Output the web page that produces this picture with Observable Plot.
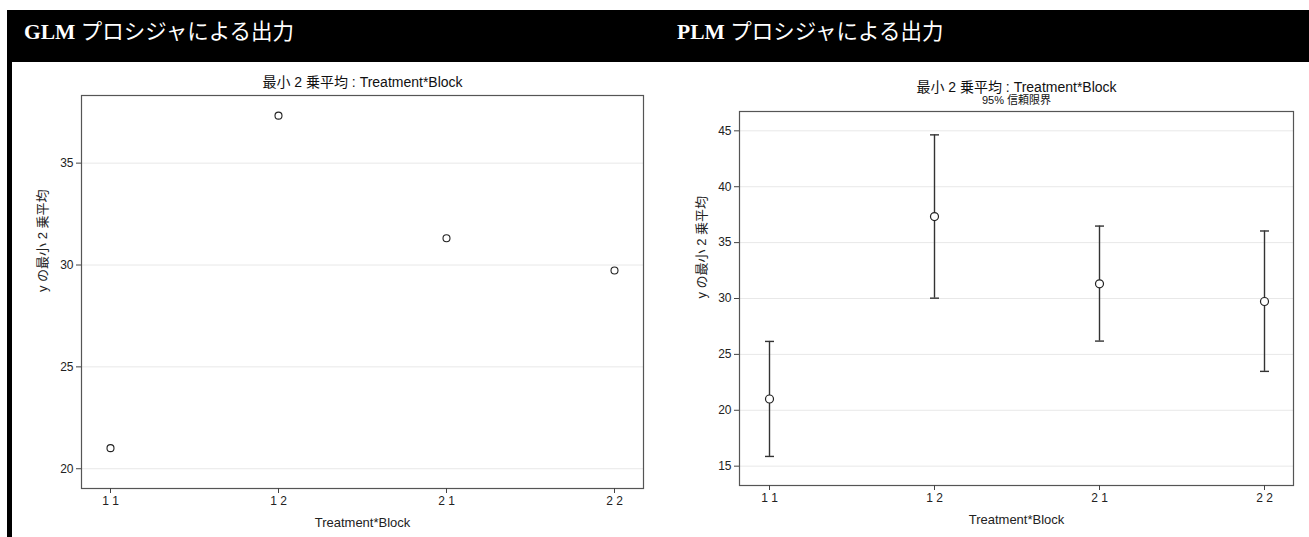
<!DOCTYPE html>
<html><head><meta charset="utf-8">
<script src="https://cdn.jsdelivr.net/npm/d3@7"></script>
<script src="https://cdn.jsdelivr.net/npm/@observablehq/plot@0.6"></script>
<style>
body{margin:0;width:1309px;height:537px;position:relative;background:#fff;overflow:hidden}
.hdr{position:absolute;left:7px;top:10px;width:1302px;height:52px;background:#000}
.bar{position:absolute;left:7px;top:62px;width:5px;height:475px;background:#000}
.htxt{position:absolute;top:19px;line-height:26px;font-size:21.5px;color:#fff;font-family:"Liberation Serif","Noto Sans CJK JP",serif;white-space:nowrap}
.htxt b{font-weight:bold}
#left,#right{position:absolute;top:70px}
#left{left:12px}
#right{left:655px}
</style></head><body>
<div class="hdr"></div>
<div class="bar"></div>
<div class="htxt" id="h1" style="left:24px"></div>
<div class="htxt" id="h2" style="left:677px"></div>
<div id="left"></div>
<div id="right"></div>
<script>
const categories = ["1 1", "1 2", "2 1", "2 2"];
const lsmeans = [21.01, 37.33, 31.31, 29.73];
const lower = [15.87, 30.03, 26.19, 23.48];
const upper = [26.16, 44.64, 36.48, 36.04];
const leftYTicks = [20, 25, 30, 35];
const rightYTicks = [15, 20, 25, 30, 35, 40, 45];
const procNames = ["GLM", "PLM"];
const panelSuffix = " プロシジャによる出力";
const chartTitle = "最小 2 乗平均 : Treatment*Block";
const subTitle = "95% 信頼限界";
const xLabel = "Treatment*Block";
const yLabel = "y の最小 2 乗平均";

document.getElementById("h1").innerHTML = "<b>" + procNames[0] + "</b>" + panelSuffix;
document.getElementById("h2").innerHTML = "<b>" + procNames[1] + "</b>" + panelSuffix;

const rows = categories.map((c, i) => ({cat: c, mean: lsmeans[i], lo: lower[i], hi: upper[i]}));
const font = '"Liberation Sans","Noto Sans CJK JP",sans-serif';
const capSymbol = {draw(ctx, size) { const r = Math.sqrt(size / Math.PI); ctx.moveTo(-r, 0); ctx.lineTo(r, 0); }};

const left = Plot.plot({
  width: 643, height: 467, marginLeft: 69, marginRight: 12, marginTop: 25, marginBottom: 49,
  style: {fontFamily: font, fontSize: "12px", color: "#222", background: "transparent", overflow: "visible"},
  x: {type: "point", domain: categories, padding: 0.166, axis: null},
  y: {domain: [19.03, 38.32], axis: null},
  marks: [
    Plot.gridY(leftYTicks, {stroke: "#e8e8e8", strokeOpacity: 1}),
    Plot.frame({stroke: "#555", strokeWidth: 1.2}),
    Plot.axisX({tickSize: 5, tickPadding: 3, label: null, stroke: "#444", fontSize: 12}),
    Plot.axisY(leftYTicks, {tickSize: 5, tickPadding: 3, label: null, stroke: "#444", fontSize: 12}),
    Plot.dot(rows, {x: "cat", y: "mean", r: 3.5, stroke: "#222", strokeWidth: 1.1}),
    Plot.text([chartTitle], {text: d => d, frameAnchor: "top", lineAnchor: "middle", dy: -12.5, fontSize: 14, fill: "#111"}),
    Plot.text([xLabel], {text: d => d, frameAnchor: "bottom", lineAnchor: "middle", dy: 34, fontSize: 13, fill: "#222"}),
    Plot.text([yLabel], {text: d => d, frameAnchor: "left", lineAnchor: "middle", dx: -39, rotate: -90, fontSize: 13, fill: "#222"})
  ]
});
document.getElementById("left").append(left);

const right = Plot.plot({
  width: 654, height: 467, marginLeft: 84, marginRight: 16, marginTop: 41, marginBottom: 52,
  style: {fontFamily: font, fontSize: "12px", color: "#222", background: "transparent", overflow: "visible"},
  x: {type: "point", domain: categories, padding: 0.172, axis: null},
  y: {domain: [13.27, 46.73], axis: null},
  marks: [
    Plot.gridY(rightYTicks, {stroke: "#e8e8e8", strokeOpacity: 1}),
    Plot.frame({stroke: "#555", strokeWidth: 1.2}),
    Plot.axisX({tickSize: 5, tickPadding: 3, label: null, stroke: "#444", fontSize: 12}),
    Plot.axisY(rightYTicks, {tickSize: 5, tickPadding: 3, label: null, stroke: "#444", fontSize: 12}),
    Plot.ruleX(rows, {x: "cat", y1: "lo", y2: "hi", stroke: "#333", strokeWidth: 1.4}),
    Plot.dot(rows, {x: "cat", y: "lo", symbol: capSymbol, r: 4.5, stroke: "#333", strokeWidth: 1.4}),
    Plot.dot(rows, {x: "cat", y: "hi", symbol: capSymbol, r: 4.5, stroke: "#333", strokeWidth: 1.4}),
    Plot.dot(rows, {x: "cat", y: "mean", r: 4, stroke: "#222", fill: "white", strokeWidth: 1.2}),
    Plot.text([chartTitle], {text: d => d, frameAnchor: "top", lineAnchor: "middle", dy: -23.5, fontSize: 14, fill: "#111"}),
    Plot.text([subTitle], {text: d => d, frameAnchor: "top", lineAnchor: "middle", dy: -11.5, fontSize: 11, fill: "#111"}),
    Plot.text([xLabel], {text: d => d, frameAnchor: "bottom", lineAnchor: "middle", dy: 34, fontSize: 13, fill: "#222"}),
    Plot.text([yLabel], {text: d => d, frameAnchor: "left", lineAnchor: "middle", dx: -37.5, rotate: -90, fontSize: 13, fill: "#222"})
  ]
});
document.getElementById("right").append(right);
</script>
</body></html>
